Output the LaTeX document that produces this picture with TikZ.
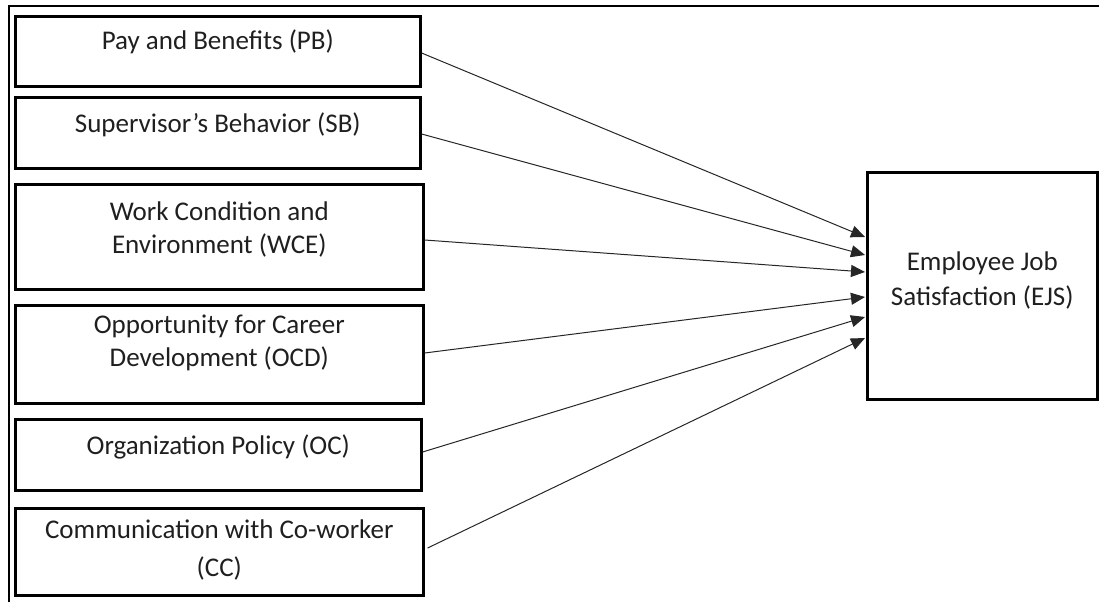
\documentclass[tikz,border=0pt]{standalone}
\usepackage{fontspec}
\setmainfont{Carlito}
\usetikzlibrary{calc,arrows.meta}
\begin{document}
\begin{tikzpicture}[x=1pt,y=-1pt,
  box/.style={draw=black, line width=2.6pt, inner sep=0pt, anchor=north west},
  txt/.style={font=\fontsize{27}{32}\selectfont, text=black!88, align=center, anchor=base, inner sep=0pt},
  conn/.style={line width=1pt, draw=black!85, -{Triangle[length=14pt,width=12pt]}},
  frame/.style={line width=2.4pt}]
\useasboundingbox (0,0) rectangle (1099,602);
% outer frame
\coordinate (ftl) at (9,6);
\coordinate (ftr) at (1099,6);
\coordinate (fbl) at (9,602);
\draw[frame] (fbl) -- (ftl) -- (ftr);
% boxes
\node[box, minimum width=405pt, minimum height=70pt] (pb) at (14,15) {};
\node[box, minimum width=405pt, minimum height=71pt] (sb) at (14,96) {};
\node[box, minimum width=408pt, minimum height=105pt] (wce) at (14,183) {};
\node[box, minimum width=408pt, minimum height=98pt] (ocd) at (14,304) {};
\node[box, minimum width=406pt, minimum height=71pt] (oc) at (14,418) {};
\node[box, minimum width=408pt, minimum height=87pt] (cc) at (14,507) {};
\node[box, minimum width=230pt, minimum height=227pt] (ejs) at (866,171) {};
% texts
\node[txt] (pbt) at ($(pb.north)+(0,34)$) {Pay and Benefits (PB)};
\node[txt] (sbt) at ($(sb.north)+(0,36)$) {Supervisor’s Behavior (SB)};
\node[txt] (wcet1) at ($(wce.north)+(0,37)$) {Work Condition and};
\node[txt] (wcet2) at ($(wce.north)+(0,70)$) {Environment (WCE)};
\node[txt] (ocdt1) at ($(ocd.north)+(0,29)$) {Opportunity for Career};
\node[txt] (ocdt2) at ($(ocd.north)+(0,62)$) {Development (OCD)};
\node[txt] (oct) at ($(oc.north)+(0,36)$) {Organization Policy (OC)};
\node[txt] (cct1) at ($(cc.north)+(0,31)$) {Communication with Co-worker};
\node[txt] (cct2) at ($(cc.north)+(0,69)$) {(CC)};
\node[txt] (ejst1) at ($(ejs.north)+(0,99)$) {Employee Job};
\node[txt] (ejst2) at ($(ejs.north)+(0,134)$) {Satisfaction (EJS)};
% connectors
\draw[conn] ($(pb.north east)+(0,38)$) -- ($(ejs.north west)+(-1,66)$);
\draw[conn] ($(sb.north east)+(0,38)$) -- ($(ejs.north west)+(-1,84)$);
\draw[conn] ($(wce.north east)+(0,57)$) -- ($(ejs.north west)+(-1,101)$);
\draw[conn] ($(ocd.north east)+(0,49)$) -- ($(ejs.north west)+(-1,126)$);
\draw[conn] ($(oc.north east)+(0,34)$) -- ($(ejs.north west)+(-1,146)$);
\draw[conn] ($(cc.north east)+(3,41)$) -- ($(ejs.north west)+(-1,167)$);
\end{tikzpicture}
\end{document}
